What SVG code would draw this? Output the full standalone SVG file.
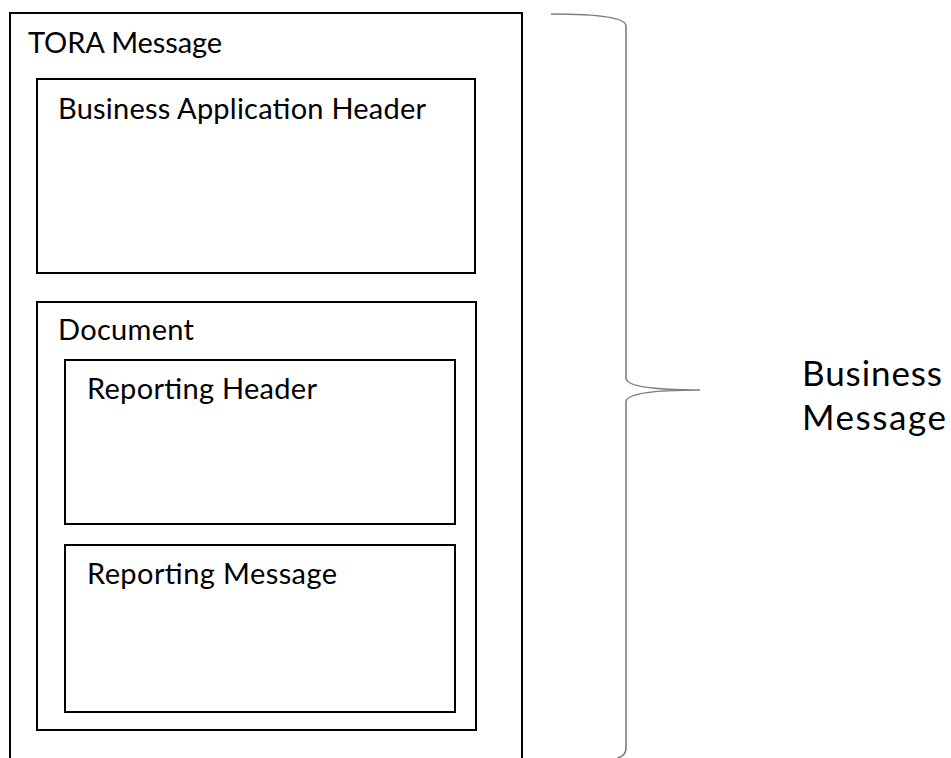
<svg xmlns="http://www.w3.org/2000/svg" width="951" height="758" viewBox="0 0 951 758">
<style>
.box{fill:none;stroke:#000;stroke-width:2}
.lbl{font-family:Lato,"Open Sans","Liberation Sans",sans-serif;font-size:29px;fill:#000}
.big{font-family:Lato,"Open Sans","Liberation Sans",sans-serif;font-size:35px;fill:#000}
.brace{fill:none;stroke:#7f7f7f;stroke-width:1.6}
</style>
<rect width="951" height="758" fill="#fff"/>
<g id="tora-message">
<rect class="box" x="10" y="13" width="512" height="760"/>
<text class="lbl" x="28" y="53" textLength="194">TORA Message</text>
</g>
<g id="business-application-header">
<rect class="box" x="37" y="79" width="438" height="194"/>
<text class="lbl" x="58" y="119" textLength="368">Business Application Header</text>
</g>
<g id="document">
<rect class="box" x="37" y="302" width="439" height="428"/>
<text class="lbl" x="58" y="340" textLength="136">Document</text>
</g>
<g id="reporting-header">
<rect class="box" x="65" y="360" width="390" height="164"/>
<text class="lbl" x="87" y="399" textLength="230">Reporting Header</text>
</g>
<g id="reporting-message">
<rect class="box" x="65" y="545" width="390" height="167"/>
<text class="lbl" x="87" y="584" textLength="250">Reporting Message</text>
</g>
<g id="connectors">
<path class="brace" d="M551,14 C600,14 626,18 626,26 L626,378 C626,386 650,390 700,390 C650,390 626,394 626,402 L626,748 C626,754 622,757 617,758"/>
</g>
<g id="business-message-label">
<text class="big" x="802" y="386" textLength="140">Business</text>
<text class="big" x="802" y="430" textLength="144">Message</text>
</g>
</svg>
